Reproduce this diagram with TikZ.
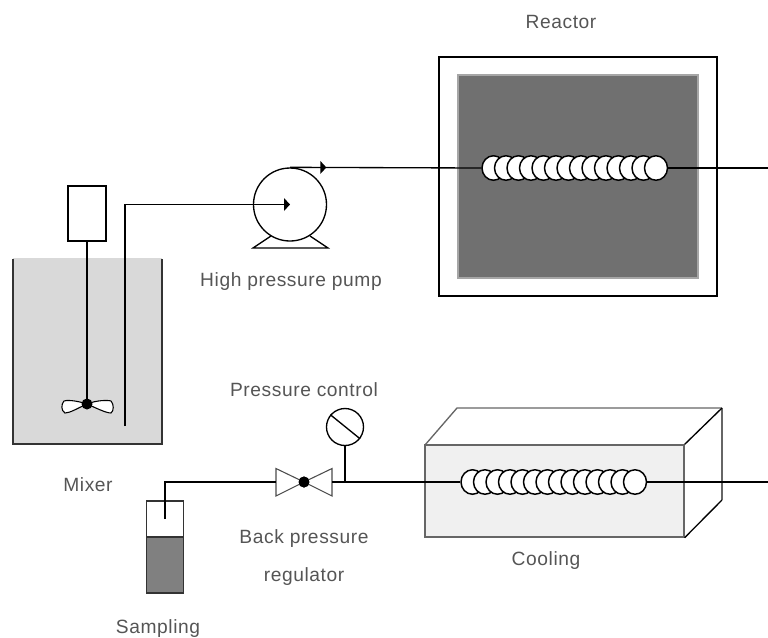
\documentclass[tikz,border=0pt]{standalone}
\usepackage{fontspec}
\setmainfont{Liberation Sans}[LetterSpace=3]
\usetikzlibrary{shapes.geometric,arrows.meta,decorations.markings}
\definecolor{txt}{HTML}{555555}
\tikzset{
  lbl/.style={text=txt,font=\fontsize{14.4}{16}\selectfont,inner sep=0pt,anchor=center},
  pipe/.style={draw=black,line width=1pt},
  coilturn/.style={ellipse,draw=black,fill=white,line width=1.1pt,minimum width=23*0.75pt,minimum height=24.5*0.75pt,inner sep=0pt},
  tri/.style={decoration={markings,mark=at position #1 with {\fill[black] (-6*0.75pt,-6.5*0.75pt) -- (0,0) -- (-6*0.75pt,6.5*0.75pt) -- cycle;}},postaction={decorate}},
  dot/.style={circle,fill=black,inner sep=0pt,minimum size=11*0.75pt},
  blade/.style={draw=black,fill=white,line width=.8pt},
}
\begin{document}
\begin{tikzpicture}[x=0.75pt,y=-0.75pt]
\useasboundingbox (0,0) rectangle (768,637);
% Reactor
\node[draw=black,line width=1pt,minimum width=278*0.75pt,minimum height=239*0.75pt,inner sep=0pt] (reactor) at (578,176.5) {};
\node[draw=black!35,fill=black!56,line width=1pt,minimum width=240*0.75pt,minimum height=203*0.75pt,inner sep=0pt] (heater) at (578,176.5) {};
% Mixer
\fill[black!15] (13,259) rectangle (162,444);
\draw[draw=black!15,line width=.8pt] (13,259) -- (162,259);
\draw[draw=black!80,line width=1pt] (13,259) coordinate (mtl) -- (13,444) -- (162,444) -- (162,259);
\node[draw=black,fill=white,line width=1pt,minimum width=38*0.75pt,minimum height=55*0.75pt,inner sep=0pt] (motor) at (87,213.5) {};
\coordinate (imp) at (87,404);
\draw[pipe] (motor.south) -- (imp);
\draw[blade] (imp) .. controls (75,400) and (66,400) .. (64,401) .. controls (61,404) and (61,411) .. (65,413) .. controls (70,413) and (78,408) .. (imp);
\draw[blade] (imp) .. controls (97,400) and (108,400) .. (111,401) .. controls (114,404) and (114,411) .. (111,413) .. controls (106,413) and (96,408) .. (imp);
\node[dot] (hub) at (imp) {};
% Pump
\draw[line width=1pt] (271,236) -- (253,248) -- (328,248) -- (310,236);
\node[circle,draw=black,fill=white,line width=1pt,minimum size=73*0.75pt,inner sep=0pt] (pump) at (290,204.5) {};
\coordinate (dip) at (125,426);
\coordinate (elbow) at (125,204.5);
\draw[pipe,tri=1] (dip) -- (elbow) -- (pump.center);
% Reactor coil
\foreach \i in {1,...,14}{\node[coilturn] (r\i) at ({481+12.5*\i},168) {};}
\coordinate (rout) at (768,168);
\draw[pipe] (r14.east) -- (rout);
\draw[pipe,tri=0.19] (pump.north) -- (r1.west);
% Cooling box
\fill[white] (425,445) -- (457,408) -- (722,408) -- (684,445) -- cycle;
\draw[draw=black!60,line width=1pt] (425,445) -- (457,408) -- (722,408);
\draw[draw=black!60,line width=1pt] (722,408) -- (722,500);
\node[draw=black!60,fill=black!6,line width=1pt,minimum width=259*0.75pt,minimum height=92*0.75pt,inner sep=0pt] (cool) at (554.5,491) {};
\draw[black,line width=1pt] (cool.north east) -- (722,408);
\draw[black,line width=1pt] (cool.south east) -- (722,500);
% Cooling coil
\foreach \i in {1,...,14}{\node[coilturn] (c\i) at ({460+12.5*\i},482) {};}
\coordinate (cout) at (768,482);
\draw[pipe] (c14.east) -- (cout);
% Valve
\node[dot] (valve) at (304,482) {};
\coordinate (v1) at (276,468.5); \coordinate (v2) at (276,496);
\coordinate (v3) at (332,468.5); \coordinate (v4) at (332,496);
\draw[draw=black!70,fill=white,line width=.8pt] (valve.center) -- (v1) -- (v2) -- cycle;
\draw[draw=black!70,fill=white,line width=.8pt] (valve.center) -- (v3) -- (v4) -- cycle;
\node[dot] at (valve) {};
\draw[pipe] (332,482) coordinate (vout) -- (c1.west);
% Gauge
\node[circle,draw=black,fill=white,line width=1pt,minimum size=37*0.75pt,inner sep=0pt] (gauge) at (345,427) {};
\draw[black,line width=1pt] (gauge.140) -- (gauge.-38);
\coordinate (tee) at (345,482);
\draw[pipe] (gauge.south) -- (tee);
% Sampling
\node[draw=black!80,fill=white,line width=1pt,minimum width=37*0.75pt,minimum height=92*0.75pt,inner sep=0pt] (vial) at (165,547) {};
\fill[black!50] (146.5,537) rectangle (183.5,593);
\draw[draw=black!80,line width=1pt] (146.5,500.5) rectangle (183.5,593);
\draw[draw=black!80,line width=1pt] (146.5,537) -- (183.5,537);
\coordinate (tube) at (165,519);
\draw[pipe] (tube) -- (165,482) -- (276,482);
% Labels
\node[lbl] (t1) at (561,22) {Reactor};
\node[lbl] (t2) at (291,282) {High pressure pump};
\node[lbl] (t3) at (304,390) {Pressure control};
\node[lbl] (t4) at (88,485) {Mixer};
\node[lbl] (t5) at (304,538.5) {Back pressure};
\node[lbl] (t6) at (304,577) {regulator};
\node[lbl] (t7) at (546,561) {Cooling};
\node[lbl] (t8) at (158,629) {Sampling};
\end{tikzpicture}
\end{document}
